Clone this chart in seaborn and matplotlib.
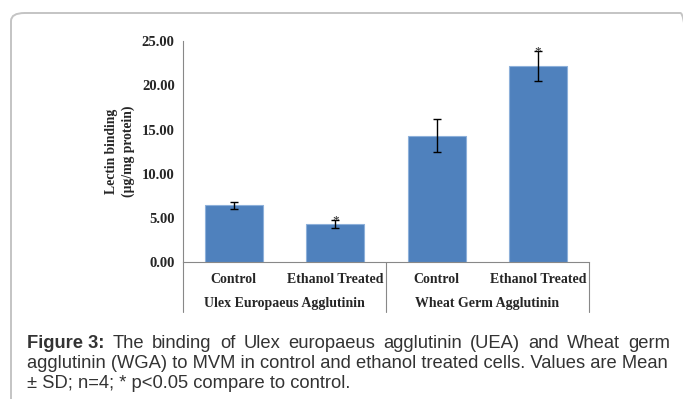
import numpy as np
import matplotlib
matplotlib.use("Agg")
import matplotlib.pyplot as plt
import seaborn as sns
import pandas as pd
from matplotlib.patches import FancyBboxPatch

# data
groups = ["Ulex Europaeus Agglutinin", "Ulex Europaeus Agglutinin",
          "Wheat Germ Agglutinin", "Wheat Germ Agglutinin"]
conditions = ["Control", "Ethanol Treated", "Control", "Ethanol Treated"]
means = [6.41, 4.30, 14.29, 22.20]
sds = [0.42, 0.47, 1.87, 1.70]
signif = [False, True, False, True]
yticks = [0, 5, 10, 15, 20, 25]

caption_lines = [
    ["Figure 3:", "The binding of Ulex europaeus agglutinin (UEA) and Wheat germ"],
    ["", "agglutinin (WGA) to MVM in control and ethanol treated cells. Values are Mean"],
    ["", "\u00b1 SD; n=4; * p<0.05 compare to control."],
]

df = pd.DataFrame({"key": [g + " " + c for g, c in zip(groups, conditions)],
                   "mean": means})

sns.set_style("white")
plt.rcParams["font.family"] = ["Liberation Serif", "DejaVu Serif"]

fig = plt.figure(figsize=(6.83, 3.99), dpi=100)
ax = fig.add_axes([0.268, 0.343, 0.594, 0.554])

sns.barplot(data=df, x="key", y="mean", order=list(df["key"]), color="#4F81BD",
            saturation=1, width=0.57, edgecolor="#8DB0DA", linewidth=0.8,
            ax=ax, zorder=2)
xs = np.arange(len(means))
ax.errorbar(xs, means, yerr=sds, fmt="none", ecolor="black", elinewidth=1,
            capsize=3, capthick=1, zorder=3)
for x, m, s, sig in zip(xs, means, sds, signif):
    if sig:
        ax.text(x, m + s - 0.7, "*", ha="center", va="bottom", fontsize=9.5,
                color="#222222", zorder=4)

ax.set_xlim(-0.5, 3.5)
ax.set_ylim(0, 25)
ax.set_yticks(yticks)
ax.set_yticklabels([f"{t:.2f}" for t in yticks], fontweight="bold", fontsize=10.5)
ax.tick_params(axis="y", length=3, width=0.8, color="#888888", pad=3)
ax.tick_params(axis="x", length=0, pad=8)
ax.set_xticks(xs)
ax.set_xticklabels(conditions, fontweight="bold", fontsize=10)
ax.set_xlabel("")
ax.set_ylabel("Lectin binding\n(\u00b5g/mg protein)", fontweight="bold",
              fontsize=9.8, labelpad=5, linespacing=1.35)

sns.despine(ax=ax, top=True, right=True)
for side in ["left", "bottom"]:
    ax.spines[side].set_color("#888888")
    ax.spines[side].set_linewidth(0.8)

# group labels and dividers below the axis
for gx, name in [(0.5, groups[0]), (2.5, groups[2])]:
    ax.text(gx, -0.186, name, transform=ax.get_xaxis_transform(), ha="center",
            va="center", fontweight="bold", fontsize=10)
for dx in [-0.5, 1.5, 3.5]:
    ax.plot([dx, dx], [0, -0.226], transform=ax.get_xaxis_transform(),
            color="#888888", lw=0.8, clip_on=False)

# rounded frame around the figure
frame = FancyBboxPatch((11 / 683, -0.2), 1.0, 1.2 - 13 / 399,
                       boxstyle="round,pad=0,rounding_size=0.02",
                       transform=fig.transFigure, fill=False,
                       edgecolor="#C4C4C4", lw=1.4, clip_on=False)
fig.patches.append(frame)

# caption: size chosen so the second line fills the width, first line justified
renderer = fig.canvas.get_renderer()
x0, x1 = 27 / 683, 670 / 683
line_y = [1 - 344 / 399, 1 - 364 / 399, 1 - 383 / 399]
cfont = dict(family=["Liberation Sans", "DejaVu Sans"], color="#333333", va="center")
probe = fig.text(x0, 0.5, caption_lines[1][1], fontsize=12, **cfont)
pw = probe.get_window_extent(renderer).width / fig.bbox.width
probe.remove()
csize = 12 * (x1 - x0) / pw
for i, (bold, rest) in enumerate(caption_lines):
    if i > 0:
        fig.text(x0, line_y[i], rest, fontsize=csize, **cfont)
        continue
    words = [(bold, "bold")] + [(w, "normal") for w in rest.split()]
    arts = [fig.text(x0, line_y[i], w, fontweight=fw, fontsize=csize, **cfont)
            for w, fw in words]
    widths = [a.get_window_extent(renderer).width / fig.bbox.width for a in arts]
    gap = (x1 - x0 - sum(widths)) / (len(arts) - 1)
    cx = x0
    for a, w in zip(arts, widths):
        a.set_x(cx)
        cx += w + gap

fig.savefig("out.png", dpi=100, facecolor="white")
